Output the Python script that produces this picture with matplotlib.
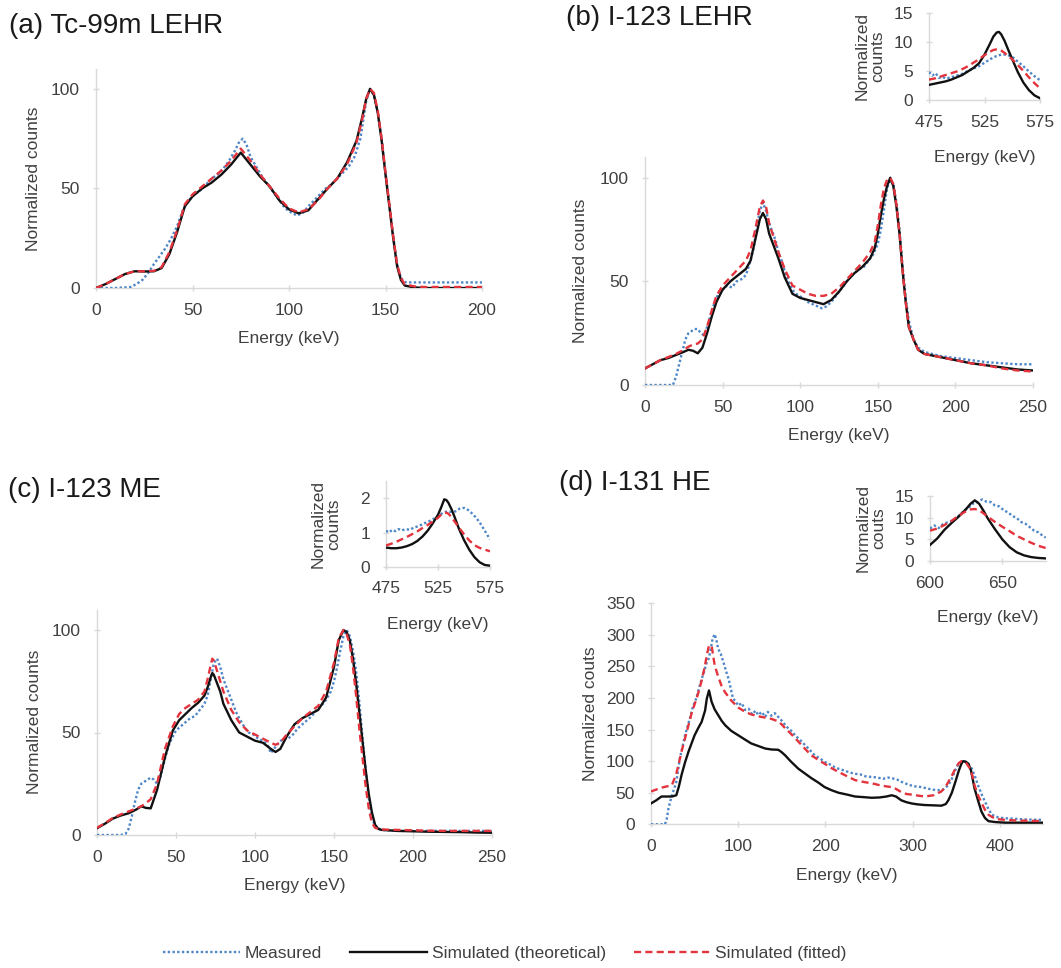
import matplotlib
matplotlib.use("Agg")
import matplotlib.pyplot as plt
from matplotlib.lines import Line2D

plt.rcParams['font.family'] = ['Liberation Sans', 'DejaVu Sans']

# ---- (a) Tc-99m LEHR ----
a_sim_e = [0, 5, 10, 15, 20, 25, 30, 34, 38, 42, 46, 50, 55, 60, 65, 70, 75, 80, 85, 90, 95, 100, 105, 110, 115,
           120, 125, 130, 135, 138, 140, 142, 144, 146, 148, 150, 152, 154, 156, 158, 160, 165, 170, 180, 190, 200]
a_theo = [0, 2, 4.5, 7, 8.4, 8.3, 8.4, 10, 17, 28, 41, 46, 50, 53, 57, 62, 68, 62, 56, 51, 44, 39.5, 37.5, 39, 44.5,
          50, 55, 63, 74, 86, 95, 100, 97, 88, 74, 57, 41, 25, 11, 4, 1.2, 0.3, 0, 0, 0, 0]
a_fit = [0, 2, 4.5, 7, 8.4, 8.4, 8.6, 10.5, 18, 29, 42, 47, 51, 55, 59, 64, 70, 64, 57, 51, 45, 40, 38, 39.5, 44,
         50, 55, 62, 73, 85, 95, 100, 98, 89, 75, 58, 42, 26, 12, 5, 1.8, 0.8, 0.5, 0.5, 0.5, 0.5]
a_meas_e = [0, 5, 10, 15, 18, 21, 24, 27, 30, 33, 36, 39, 42, 45, 48, 51, 54, 57, 60, 63, 66, 69, 72, 74, 76, 78, 80,
            83, 86, 89, 92, 95, 98, 101, 104, 107, 110, 113, 116, 119, 122, 125, 128, 131, 134, 137, 140, 142, 144,
            146, 148, 150, 152, 154, 156, 158, 160, 163, 166, 170, 180, 190, 200]
a_meas = [0, 0, 0, 0.3, 0.5, 2, 4, 7.5, 12, 16, 20, 25, 31, 39, 44, 47, 49, 52, 55, 57, 60, 64, 69, 73, 75, 72, 66,
          61, 56, 52, 48, 44, 40, 38, 36.5, 37.5, 41, 44, 47, 50, 52, 55, 58, 61, 66, 75, 94, 100, 97,
          88, 75, 58, 42, 26, 12, 5, 3, 2.8, 2.8, 2.8, 2.8, 2.8, 2.8]

# ---- (b) I-123 LEHR ----
b_sim_e = [0, 5, 10, 15, 20, 25, 28, 31, 34, 37, 40, 43, 46, 50, 55, 60, 65, 68, 71, 74, 76, 78, 80, 83, 86, 90, 95,
           100, 105, 110, 115, 120, 125, 130, 135, 140, 145, 148, 150, 152, 154, 156, 158, 160, 162, 164, 166, 168,
           170, 173, 176, 180, 190, 200, 210, 220, 230, 240, 250]
b_theo = [8, 10, 12, 13, 14.5, 16, 17, 16.5, 15.3, 18, 25, 33, 40, 46, 50, 53, 56, 60, 70, 80, 83, 80, 73, 67, 61, 52,
          44, 42, 41, 40, 39, 41, 45, 50, 54, 57, 61, 66, 73, 82, 90, 96, 100, 96, 86, 73, 55, 40, 28, 22, 17, 15,
          13.5, 12, 10.5, 9.5, 8.5, 7.5, 7]
b_fit = [8, 10, 12, 13.5, 15, 17, 18.5, 19.5, 20, 22, 28, 36, 43, 48, 52, 56, 60, 65, 75, 86, 89, 86, 78, 71, 64, 56,
         48, 46, 44, 43, 43, 44, 47, 51, 55, 59, 64, 69, 77, 87, 95, 99, 100, 97, 87, 73, 55, 40, 28, 22, 17, 15,
         13.5, 12, 10.5, 9.5, 8, 7, 6.5]
b_meas_e = [0, 5, 10, 15, 18, 20, 22, 24, 26, 28, 30, 32, 34, 36, 38, 40, 42, 44, 46, 48, 50, 53, 56, 59, 62, 65, 68,
            70, 72, 74, 76, 78, 80, 82, 84, 86, 88, 90, 93, 96, 99, 102, 105, 108, 111, 114, 117, 120, 123, 126, 129,
            132, 135, 138, 141, 144, 147, 150, 152, 154, 156, 158, 160, 162, 164, 166, 168, 170, 173, 176, 180, 185,
            190, 200, 210, 220, 230, 240, 250]
b_meas = [0, 0, 0, 0, 0, 4, 10, 16, 22, 25, 26, 27, 27, 25, 24, 28, 33, 38, 42, 45, 46, 48, 47, 50, 51, 53, 60, 66,
          76, 84, 88, 84, 78, 74, 70, 64, 60, 55, 49, 45, 43, 42, 40, 39, 38, 37, 38, 40, 43, 46, 49, 52, 54, 56, 57,
          60, 63, 68, 75, 85, 95, 99, 97, 88, 75, 57, 42, 31, 22, 18, 16, 15, 14, 13, 12, 11, 10.5, 10, 10]

bi_sim_e = [475, 480, 485, 490, 495, 500, 505, 510, 515, 520, 525, 530, 533, 536, 538, 540, 543, 546, 550, 555, 560,
            565, 570, 575]
bi_theo = [2.6, 2.8, 3.0, 3.2, 3.5, 3.9, 4.3, 4.9, 5.5, 6.3, 7.8, 9.7, 10.9, 11.6, 11.7, 11.3, 10.2, 8.8, 7.0, 4.8,
           3.0, 1.7, 0.8, 0.3]
bi_fit = [3.5, 3.7, 4.0, 4.3, 4.6, 4.9, 5.3, 5.8, 6.4, 7.0, 7.7, 8.3, 8.6, 8.7, 8.7, 8.5, 8.1, 7.6, 7.0, 6.0, 5.0,
          3.9, 2.9, 2.0]
bi_meas_e = [475, 478, 481, 484, 487, 490, 495, 500, 505, 510, 515, 520, 525, 530, 535, 540, 545, 550, 555, 560, 565,
             570, 575]
bi_meas = [4.8, 4.2, 4.6, 3.8, 4.0, 3.7, 3.9, 4.2, 4.5, 5.0, 5.4, 5.8, 6.4, 7.0, 7.5, 7.8, 7.8, 7.4, 6.6, 5.8, 4.9,
           4.1, 3.4]

# ---- (c) I-123 ME ----
c_sim_e = [0, 5, 10, 15, 20, 25, 28, 31, 34, 38, 43, 48, 52, 56, 60, 64, 68, 70, 72, 73, 74, 76, 78, 80, 85, 90, 95,
           100, 105, 110, 113, 116, 120, 125, 130, 135, 140, 145, 150, 153, 156, 158, 160, 162, 164, 166, 168, 170,
           172, 174, 176, 178, 180, 190, 200, 210, 220, 230, 240, 250]
c_theo = [3.3, 5.5, 8, 9.5, 10.6, 12.5, 14, 13.2, 13, 22, 38, 51, 56, 59, 62, 64.5, 68, 72, 77, 79, 78, 74, 70, 64,
          56, 50, 48, 46, 45, 42, 40.5, 42, 48, 54, 57, 59, 61, 67, 82, 95, 100, 99, 95, 86, 74, 60, 46, 32, 20, 11,
          5, 3, 2.5, 2, 1.8, 1.6, 1.5, 1.4, 1.2, 1.1]
c_fit = [3.5, 5.8, 8.3, 10, 11.5, 13, 14, 15.5, 17.5, 25, 42, 53, 59, 62, 64, 66, 70, 76, 83, 86, 85, 80, 75, 70, 61,
         55, 51, 49, 47, 45, 44, 45, 49, 53, 57, 60, 63, 70, 84, 96, 100, 98, 93, 82, 68, 52, 38, 24, 13, 6, 3.5, 3,
         2.7, 2.5, 2.3, 2.1, 2, 2, 2, 2]
c_meas_e = [0, 5, 10, 15, 18, 20, 22, 24, 26, 28, 30, 32, 34, 36, 38, 40, 42, 44, 46, 48, 50, 53, 56, 59, 62, 65, 68,
            70, 72, 74, 76, 78, 80, 82, 84, 86, 88, 90, 93, 96, 99, 102, 105, 108, 110, 112, 115, 118, 121, 124, 127,
            130, 133, 136, 139, 142, 145, 148, 150, 152, 154, 156, 158, 160, 162, 164, 166, 168, 170, 172, 174, 176,
            180, 190, 200, 210, 220, 230, 240, 250]
c_meas = [0, 0, 0, 0, 0.5, 3, 9, 16, 22, 25, 26, 27, 28, 27, 25, 28, 34, 40, 45, 48, 51, 53, 55, 57, 58, 61, 64, 68,
          76, 84, 86, 82, 76, 72, 68, 64, 60, 57, 53, 50, 49, 47, 46, 44, 40, 42, 45, 47, 47, 49, 52, 54, 56, 58, 61,
          63, 66, 70, 75, 82, 90, 97, 100, 97, 90, 80, 65, 48, 32, 18, 9, 4, 2.5, 2, 2, 2, 2, 2, 2, 2]

ci_sim_e = [475, 480, 485, 490, 495, 500, 505, 510, 515, 520, 525, 528, 531, 533, 535, 538, 541, 545, 550, 555, 560,
            565, 570, 575]
ci_theo = [0.56, 0.54, 0.54, 0.56, 0.6, 0.66, 0.75, 0.88, 1.05, 1.27, 1.52, 1.73, 1.97, 1.95, 1.87, 1.68, 1.45, 1.12,
           0.78, 0.5, 0.28, 0.13, 0.05, 0.03]
ci_fit = [0.62, 0.67, 0.73, 0.8, 0.87, 0.95, 1.03, 1.13, 1.22, 1.32, 1.43, 1.52, 1.58, 1.58, 1.55, 1.45, 1.32, 1.15,
          0.95, 0.77, 0.63, 0.55, 0.5, 0.45]
ci_meas_e = [475, 478, 481, 484, 487, 490, 494, 498, 502, 506, 510, 514, 518, 522, 526, 530, 534, 538, 542, 546, 550,
             554, 558, 562, 566, 570, 575]
ci_meas = [1.05, 1.0, 1.08, 1.04, 1.1, 1.06, 1.1, 1.08, 1.15, 1.18, 1.24, 1.3, 1.35, 1.42, 1.5, 1.58, 1.62, 1.6, 1.62,
           1.7, 1.72, 1.66, 1.55, 1.42, 1.25, 1.05, 0.8]

# ---- (d) I-131 HE ----
d_sim_e = [0, 6, 12, 18, 24, 29, 32, 35, 39, 43, 47, 50, 54, 58, 62, 64, 66.5, 69.5, 73, 77, 81, 85, 92, 100, 108,
           115, 123, 131, 138, 146, 150, 154, 160, 169, 177, 184, 192, 199, 207, 215, 225, 234, 244, 253, 262, 270,
           276, 281, 287, 293, 299, 306, 314, 324, 333, 338, 341, 345, 349, 353, 356, 358, 361, 364, 367, 371, 375,
           379, 383, 387, 395, 406, 420, 435, 450]
d_theo = [33, 38, 44, 44, 44, 46, 60, 78, 98, 115, 130, 141, 152, 162, 180, 199, 212, 194, 182, 173, 164, 157, 148,
          141, 134, 128, 124, 120, 118.5, 118, 114, 109, 100, 88, 80, 73, 66, 59, 54, 50, 47, 44, 43, 42, 42.5, 44,
          46, 44, 38, 35, 33, 31.5, 30.5, 30, 29.5, 32, 38, 50, 67, 85, 96, 100, 99, 96, 85, 57, 38, 20, 10, 5, 3.5,
          2.6, 2.6, 2.6, 2.6]
d_fit = [52, 55, 58, 60, 62, 80, 97, 115, 136, 157, 178, 190, 207, 227, 252, 268, 283, 283, 252, 234, 219, 209, 196,
         185, 178, 174, 171, 169, 167, 163, 158, 152, 144, 131, 119, 109, 102, 96, 89, 83, 76, 70, 67, 65, 62, 60,
         59, 56, 51, 48, 47, 45.5, 44, 46, 52, 60, 67, 77, 88, 97, 100, 100, 98, 92, 86, 62, 46, 34, 23, 15, 8.5, 7,
         6, 5.5, 5]
d_meas_e = [0, 8, 16, 18, 20, 22, 24, 27, 29, 31, 33, 36, 39, 42, 45, 48, 52, 56, 58, 61, 64, 66, 68, 70, 72, 73, 75,
            77, 80, 83, 86, 89, 92, 94, 97, 100, 104, 108, 112, 116, 120, 123, 127, 131, 134, 138, 142, 146, 150, 154,
            158, 162, 165, 170, 177, 182, 188, 194, 199, 205, 210, 215, 222, 228, 234, 240, 246, 253, 260, 266, 272,
            276, 282, 286, 291, 297, 303, 310, 316, 322, 329, 335, 341, 345, 349, 352, 355, 358, 361, 364, 368, 372,
            375, 379, 383, 387, 391, 398, 406, 415, 425, 435, 450]
d_meas = [0, 0, 0, 8, 25, 36, 46, 58, 67, 85, 104, 122, 141, 155, 170, 186, 200, 220, 230, 242, 257, 262, 273, 290,
          298, 301, 292, 278, 270, 257, 243, 230, 212, 199, 195, 188, 192, 181, 183, 174, 180, 173, 178, 170, 178,
          172, 176, 170, 164, 157, 151, 147, 141, 135, 125, 118, 109, 104, 99, 95, 91, 88, 85, 82, 80, 79, 76, 75,
          74, 72, 74, 73, 71, 68, 65, 62, 60, 59, 57, 55, 54, 55, 62, 72, 86, 94, 98, 100, 99, 95, 88, 74, 62, 48,
          36, 24, 15, 11, 9.5, 9, 8, 7.5, 7]

di_sim_e = [600, 605, 610, 615, 620, 625, 628, 631, 634, 637, 640, 645, 650, 655, 660, 665, 670, 675, 680]
di_theo = [3.7, 5.2, 7.2, 8.8, 10.3, 12.0, 13.2, 14.0, 13.2, 11.6, 9.8, 7.3, 5.0, 3.2, 2.0, 1.3, 0.9, 0.7, 0.6]
di_fit = [7.0, 7.5, 8.3, 9.3, 10.5, 11.5, 11.9, 12.0, 11.7, 11.0, 10.2, 9.0, 7.9, 6.9, 5.8, 5.0, 4.2, 3.5, 3.0]
di_meas_e = [600, 603, 606, 609, 612, 615, 618, 621, 624, 627, 630, 633, 636, 639, 642, 645, 648, 651, 654, 657, 660,
             663, 666, 669, 672, 675, 678, 680]
di_meas = [7.5, 8.2, 7.6, 8.5, 8.9, 9.2, 9.8, 10.8, 11.7, 12.4, 13.3, 13.6, 14.2, 13.7, 13.6, 12.8, 12.6, 11.7, 11.2,
           10.4, 9.9, 9.0, 8.6, 7.8, 7.0, 6.6, 5.8, 5.4]

BLUE = '#4F86C6'
RED = '#E3333C'
BLACK = '#111111'
AXIS_GREY = '#D9D9D9'
TEXT_GREY = '#404040'
FS = 12.5

fig = plt.figure(figsize=(10.61, 9.68), dpi=100)


def spectrum(rect, e_meas, meas, e_sim, theo, fit, xlim, xticks, ylim, yticks, ylabel, lw=1.7,
             ylabelpad=8, xlabelpad=10):
    ax = fig.add_axes(rect)
    ax.plot(e_meas, meas, color=BLUE, lw=lw, linestyle=(0, (1, 1)), zorder=3)
    ax.plot(e_sim, theo, color=BLACK, lw=lw, zorder=4)
    ax.plot(e_sim, fit, color=RED, lw=lw, linestyle=(0, (3, 1.8)), zorder=5)
    ax.set_xlim(*xlim)
    ax.set_ylim(*ylim)
    ax.set_xticks(xticks)
    ax.set_yticks(yticks)
    for s in ('top', 'right'):
        ax.spines[s].set_visible(False)
    for s in ('left', 'bottom'):
        ax.spines[s].set_color(AXIS_GREY)
        ax.spines[s].set_linewidth(1.0)
    ax.tick_params(direction='inout', length=5, width=1, color=AXIS_GREY, labelsize=FS,
                   labelcolor=TEXT_GREY)
    ax.tick_params(axis='y', pad=9)
    ax.tick_params(axis='x', pad=8)
    ax.set_xlabel('Energy (keV)', fontsize=FS, color=TEXT_GREY, labelpad=xlabelpad)
    ax.set_ylabel(ylabel, fontsize=FS, color=TEXT_GREY, labelpad=ylabelpad, linespacing=1.05)
    return ax


W, H = 1061, 968


def rect(x0, x1, ybot, ytop):
    return [x0 / W, 1 - ybot / H, (x1 - x0) / W, (ybot - ytop) / H]


spectrum(rect(96, 482, 288, 69), a_meas_e, a_meas, a_sim_e, a_theo, a_fit,
         (0, 200), [0, 50, 100, 150, 200], (0, 110), [0, 50, 100], 'Normalized counts', ylabelpad=7)
spectrum(rect(645, 1033, 385, 157), b_meas_e, b_meas, b_sim_e, b_theo, b_fit,
         (0, 250), [0, 50, 100, 150, 200, 250], (0, 110), [0, 50, 100], 'Normalized counts', ylabelpad=9)
spectrum(rect(929, 1040, 100, 12.7), bi_meas_e, bi_meas, bi_sim_e, bi_theo, bi_fit,
         (475, 575), [475, 525, 575], (0, 15), [0, 5, 10, 15], 'Normalized\ncounts', ylabelpad=6,
         xlabelpad=15)
spectrum(rect(97, 492, 835, 609.5), c_meas_e, c_meas, c_sim_e, c_theo, c_fit,
         (0, 250), [0, 50, 100, 150, 200, 250], (0, 110), [0, 50, 100], 'Normalized counts', ylabelpad=7)
spectrum(rect(386, 490, 566.7, 481.2), ci_meas_e, ci_meas, ci_sim_e, ci_theo, ci_fit,
         (475, 575), [475, 525, 575], (0, 2.5), [0, 1, 2], 'Normalized\ncounts', ylabelpad=14,
         xlabelpad=15)
spectrum(rect(651, 1043.4, 824.3, 603.3), d_meas_e, d_meas, d_sim_e, d_theo, d_fit,
         (0, 450), [0, 100, 200, 300, 400], (0, 350), [0, 50, 100, 150, 200, 250, 300, 350],
         'Normalized couts', ylabelpad=6)
spectrum(rect(930, 1045.7, 561, 496), di_meas_e, di_meas, di_sim_e, di_theo, di_fit,
         (600, 680), [600, 650], (0, 15), [0, 5, 10, 15], 'Normalized\ncouts', ylabelpad=6,
         xlabelpad=14)

# panel titles
titles = ['(a) Tc-99m LEHR', '(b) I-123 LEHR', '(c) I-123 ME', '(d) I-131 HE']
title_xy = [(9, 33), (566, 25), (8, 497), (559, 490)]
for t, (x, y) in zip(titles, title_xy):
    fig.text(x / W, 1 - y / H, t, fontsize=20, color='#1a1a1a', ha='left', va='baseline')

handles = [Line2D([], [], color=BLUE, lw=1.7, linestyle=(0, (1, 1))),
           Line2D([], [], color=BLACK, lw=1.7),
           Line2D([], [], color=RED, lw=1.7, linestyle=(0, (3, 1.8)))]
labels = ['Measured', 'Simulated (theoretical)', 'Simulated (fitted)']
fig.legend(handles, labels, loc='center', bbox_to_anchor=(0.476, 1 - 953 / H), ncol=3, frameon=False,
           fontsize=FS, handlelength=4.4, handletextpad=0.3, columnspacing=1.6, labelcolor=TEXT_GREY)

fig.savefig('out.png', dpi=100)
